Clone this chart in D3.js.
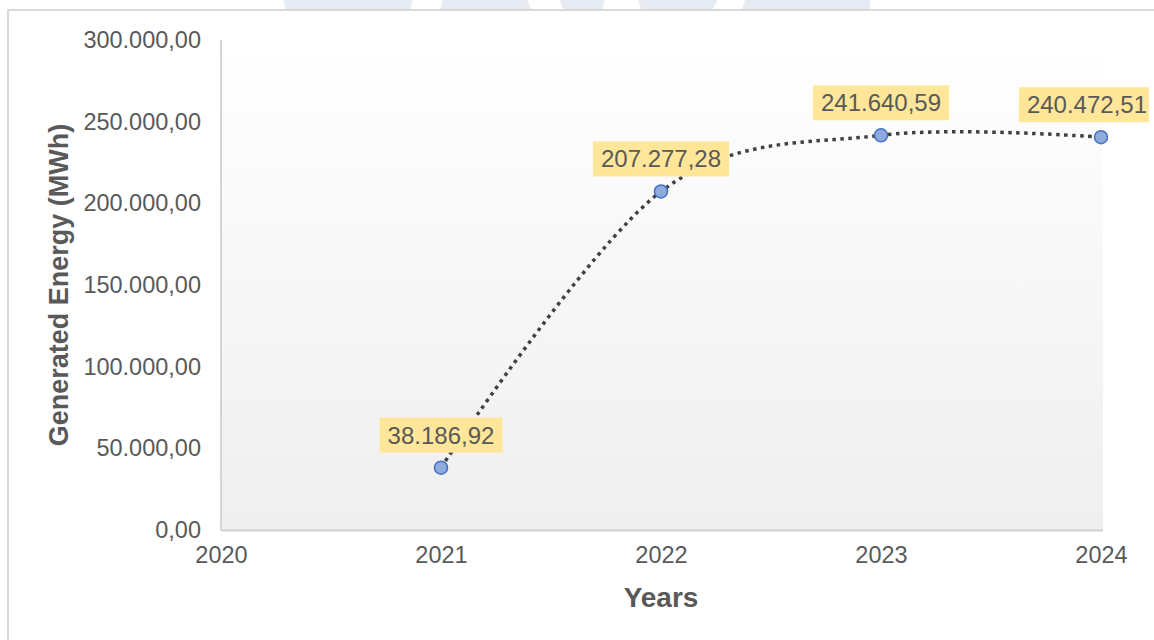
<!DOCTYPE html>
<html>
<head>
<meta charset="utf-8">
<script src="https://cdn.jsdelivr.net/npm/d3@7"></script>
<style>
  html, body { margin: 0; padding: 0; background: #ffffff; }
  svg { display: block; font-family: "Liberation Sans", Arial, sans-serif; }
</style>
</head>
<body>
<svg id="chart" width="1154" height="640"></svg>
<script>
// Annual generated energy (MWh)
const years = [2021, 2022, 2023, 2024];
const energy = [38186.92, 207277.28, 241640.59, 240472.51];
const yTicks = [0, 50000, 100000, 150000, 200000, 250000, 300000];
const xTicks = [2020, 2021, 2022, 2023, 2024];

const W = 1154, H = 640;
const margin = { left: 221, right: 53, top: 40, bottom: 110 };

const svg = d3.select("#chart");

// European number style: "." thousands, "," decimals
const locale = d3.formatLocale({ decimal: ",", thousands: ".", grouping: [3], currency: ["", ""] });
const fmt = locale.format(",.2f");

const x = d3.scaleLinear().domain([2020, 2024]).range([margin.left, W - margin.right]);
const y = d3.scaleLinear().domain([0, 300000]).range([H - margin.bottom, margin.top]);

// faint header banner shapes along the top edge
const banner = [
  [[283, 0], [413, 0], [410, 9], [286, 9]],
  [[443, 0], [527, 0], [531, 9], [440, 9]],
  [[560, 0], [605, 0], [602, 9], [563, 9]],
  [[638, 0], [717, 0], [713, 9], [641, 9]],
  [[745, 0], [870, 0], [870, 9], [742, 9]]
];
svg.selectAll("polygon.banner").data(banner).join("polygon")
  .attr("class", "banner")
  .attr("points", d => d.map(p => p.join(",")).join(" "))
  .attr("fill", "#e6ebf3");

// chart frame
svg.append("rect")
  .attr("x", 8).attr("y", 10).attr("width", 1300).attr("height", 800)
  .attr("fill", "#ffffff").attr("stroke", "#d9d9d9").attr("stroke-width", 2);

// plot area gradient
const defs = svg.append("defs");
const grad = defs.append("linearGradient").attr("id", "plotBg")
  .attr("x1", 0).attr("y1", 0).attr("x2", 0).attr("y2", 1);
grad.append("stop").attr("offset", "0%").attr("stop-color", "#ffffff");
grad.append("stop").attr("offset", "100%").attr("stop-color", "#efefef");

svg.append("rect")
  .attr("x", x(2020)).attr("y", y(300000))
  .attr("width", x(2024) - x(2020) + 2).attr("height", y(0) - y(300000))
  .attr("fill", "url(#plotBg)");

// axes lines
svg.append("line")
  .attr("x1", x(2020)).attr("x2", x(2020))
  .attr("y1", y(300000)).attr("y2", y(0))
  .attr("stroke", "#c8c8c8").attr("stroke-width", 1.5);
svg.append("line")
  .attr("x1", x(2020)).attr("x2", x(2024) + 2)
  .attr("y1", y(0) + 0.5).attr("y2", y(0) + 0.5)
  .attr("stroke", "#d0d0d0").attr("stroke-width", 2);

// y tick labels
const yAxis = d3.axisLeft(y).tickValues(yTicks).tickFormat(fmt).tickSize(0).tickPadding(20);
const gy = svg.append("g").attr("transform", `translate(${x(2020)},0)`).call(yAxis);
gy.select(".domain").remove();
gy.selectAll("text").attr("font-size", 23.5).attr("fill", "#595959")
  .attr("font-family", "Liberation Sans, Arial, sans-serif");

// x tick labels
const xAxis = d3.axisBottom(x).tickValues(xTicks).tickFormat(d3.format("d")).tickSize(0).tickPadding(16);
const gx = svg.append("g").attr("transform", `translate(0,${y(0)})`).call(xAxis);
gx.select(".domain").remove();
gx.selectAll("text").attr("font-size", 23.5).attr("fill", "#595959")
  .attr("font-family", "Liberation Sans, Arial, sans-serif");

// axis titles
svg.append("text")
  .attr("x", (x(2020) + x(2024)) / 2).attr("y", 607)
  .attr("text-anchor", "middle")
  .attr("font-size", 28).attr("font-weight", "bold").attr("fill", "#595959")
  .text("Years");

svg.append("text")
  .attr("transform", `translate(68,${(y(0) + y(300000)) / 2}) rotate(-90)`)
  .attr("text-anchor", "middle")
  .attr("font-size", 27).attr("font-weight", "bold").attr("fill", "#595959")
  .text("Generated Energy (MWh)");

// smoothed dotted series line
const pts = years.map((yr, i) => [x(yr), y(energy[i])]);
svg.append("path")
  .attr("d", d3.line().curve(d3.curveCardinal.tension(0))(pts))
  .attr("fill", "none")
  .attr("stroke", "#404040")
  .attr("stroke-width", 3.5)
  .attr("stroke-dasharray", "3.5 4.5");

// markers
svg.selectAll("circle.pt").data(years).join("circle")
  .attr("class", "pt")
  .attr("cx", (d) => x(d))
  .attr("cy", (d, i) => y(energy[i]))
  .attr("r", 6.5)
  .attr("fill", "#8faadc")
  .attr("stroke", "#4472c4")
  .attr("stroke-width", 1.5);

// value labels; a label that would run past the right edge is pulled inside it
const labelFont = 24, padX = 8, boxH = 35, gap = 15, edge = W - 5;
const lg = svg.append("g");
years.forEach((yr, i) => {
  const g = lg.append("g");
  const t = g.append("text")
    .attr("font-size", labelFont).attr("fill", "#595959")
    .attr("text-anchor", "middle")
    .text(fmt(energy[i]));
  const tw = t.node().getComputedTextLength();
  let cx = x(yr);
  let left = cx - tw / 2 - padX, right = cx + tw / 2 + padX;
  if (right > edge) {
    right = edge;
    cx = edge - 2 - tw / 2;
    left = cx - tw / 2 - padX;
  }
  const bottom = y(energy[i]) - gap;
  g.insert("rect", "text")
    .attr("x", left).attr("y", bottom - boxH)
    .attr("width", right - left).attr("height", boxH)
    .attr("fill", "#ffe699");
  t.attr("x", cx).attr("y", bottom - boxH / 2).attr("dy", "0.35em");
});
</script>
</body>
</html>
